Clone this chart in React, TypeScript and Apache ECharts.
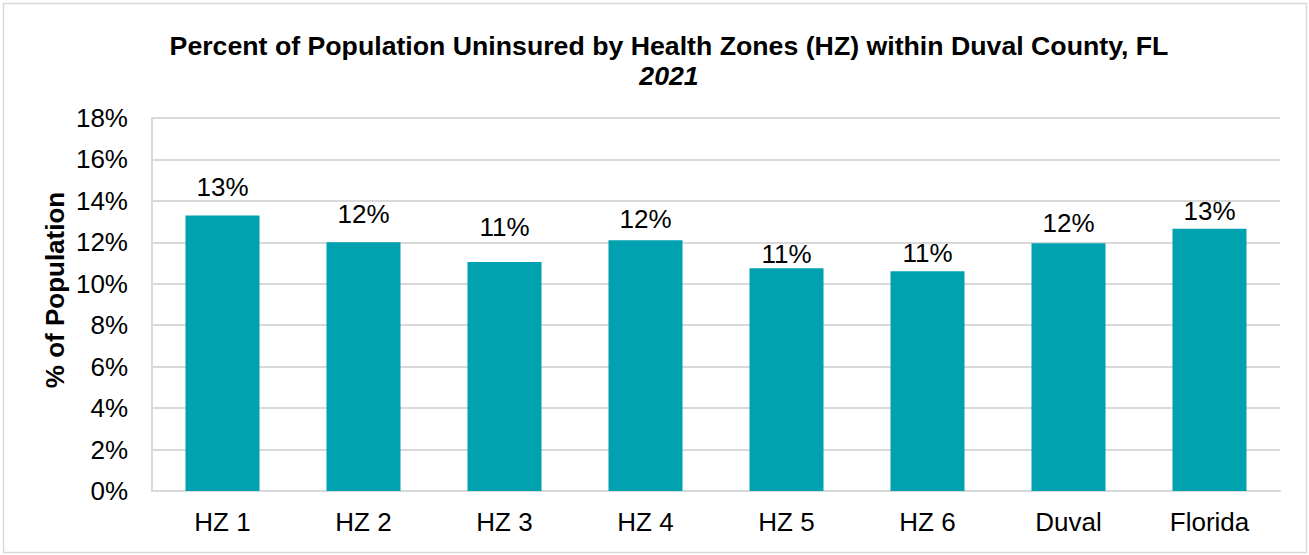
import React, { useEffect, useRef } from "react";
import * as echarts from "echarts";

const categories = ["HZ 1", "HZ 2", "HZ 3", "HZ 4", "HZ 5", "HZ 6", "Duval", "Florida"];
const uninsuredPct = [13.3, 12.0, 11.05, 12.1, 10.75, 10.6, 11.95, 12.65];
const titleLine1 = "Percent of Population Uninsured by Health Zones (HZ) within Duval County, FL";
const titleLine2 = "2021";
const yAxisName = "% of Population";
// label gap above each bar (style only, mirrors manually placed labels)
const labelGaps = [15, 15, 22, 8, 1, 5, 7, 5];

export default function App() {
  const ref = useRef<HTMLDivElement>(null);
  useEffect(() => {
    if (!ref.current) return;
    const chart = echarts.init(ref.current, null, { renderer: "svg" });
    const font = "Liberation Sans, Arial, sans-serif";
    chart.setOption({
      animation: false,
      backgroundColor: "#ffffff",
      textStyle: { fontFamily: font },
      graphic: [
        {
          type: "rect",
          shape: { x: 3.5, y: 3.5, width: 1303, height: 549 },
          style: { fill: "none", stroke: "#d9d9d9", lineWidth: 1.5 },
          silent: true,
        },
        {
          type: "text",
          x: 55,
          y: 290,
          rotation: Math.PI / 2,
          style: {
            text: yAxisName,
            fontFamily: font,
            fontSize: 26,
            fontWeight: "bold",
            fill: "#000000",
            align: "center",
            verticalAlign: "middle",
          },
          silent: true,
        },
      ],
      title: {
        text: titleLine1,
        subtext: titleLine2,
        left: 664,
        textAlign: "center",
        top: 27,
        itemGap: 2,
        textStyle: { fontFamily: font, fontSize: 26.7, fontWeight: "bold", color: "#000000", lineHeight: 28 },
        subtextStyle: { fontFamily: font, fontSize: 26.7, fontWeight: "bold", fontStyle: "italic", color: "#000000", lineHeight: 28 },
      },
      grid: { left: 152, right: 29, top: 118, bottom: 64, containLabel: false },
      xAxis: {
        type: "category",
        data: categories,
        axisLine: { show: true, lineStyle: { color: "#d9d9d9", width: 2 } },
        axisTick: { show: false },
        axisLabel: { fontFamily: font, fontSize: 26, color: "#000000", margin: 18 },
      },
      yAxis: {
        type: "value",
        min: 0,
        max: 18,
        interval: 2,
        axisLine: { show: true, lineStyle: { color: "#d9d9d9", width: 2 } },
        axisTick: { show: false },
        splitLine: { show: true, lineStyle: { color: "#d9d9d9", width: 2 } },
        axisLabel: {
          fontFamily: font,
          fontSize: 26,
          color: "#000000",
          margin: 24,
          formatter: (v: number) => `${v}%`,
        },
      },
      series: [
        {
          type: "bar",
          data: uninsuredPct.map((v, i) => ({ value: v, label: { distance: labelGaps[i] } })),
          barWidth: "52.5%",
          itemStyle: { color: "#00A2B0" },
          label: {
            show: true,
            position: "top",
            distance: 13,
            fontFamily: font,
            fontSize: 26,
            color: "#000000",
            formatter: (p: any) => `${Math.round(p.value)}%`,
          },
        },
      ],
    });
    return () => chart.dispose();
  }, []);
  return (
    <div
      ref={ref}
      style={{ position: "fixed", left: 0, top: 0, width: 1309, height: 555 }}
    />
  );
}
